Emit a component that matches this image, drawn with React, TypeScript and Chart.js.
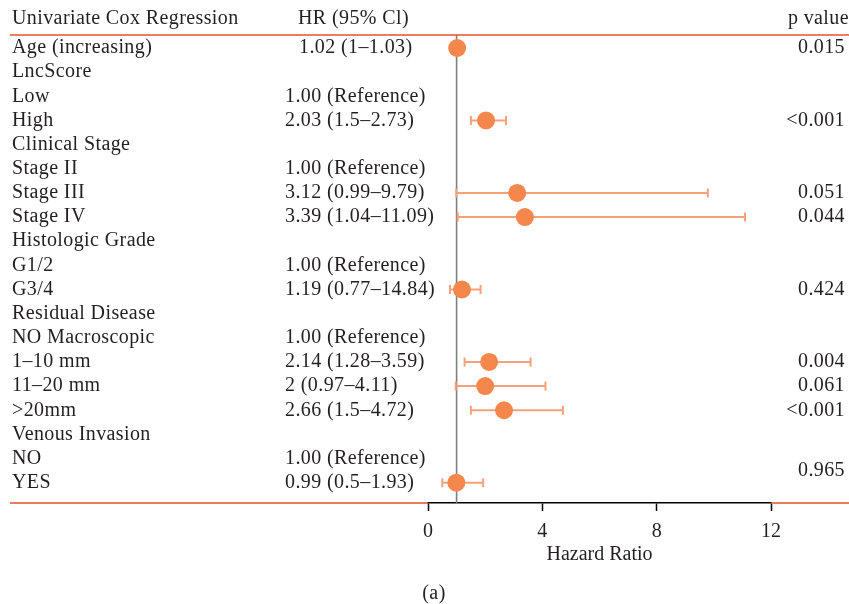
import React, { useEffect, useRef } from "react";
import { Chart, registerables } from "chart.js";

Chart.register(...registerables);

const rowLabels = [
  "Age (increasing)", "LncScore", "Low", "High", "Clinical Stage", "Stage II", "Stage III", "Stage IV",
  "Histologic Grade", "G1/2", "G3/4", "Residual Disease", "NO Macroscopic", "1–10 mm", "11–20 mm",
  ">20mm", "Venous Invasion", "NO", "YES",
];
const hrTexts = [
  "1.02 (1–1.03)", "", "1.00 (Reference)", "2.03 (1.5–2.73)", "", "1.00 (Reference)", "3.12 (0.99–9.79)",
  "3.39 (1.04–11.09)", "", "1.00 (Reference)", "1.19 (0.77–14.84)", "", "1.00 (Reference)",
  "2.14 (1.28–3.59)", "2 (0.97–4.11)", "2.66 (1.5–4.72)", "", "1.00 (Reference)", "0.99 (0.5–1.93)",
];
const hrValues = [1.02, null, null, 2.03, null, null, 3.12, 3.39, null, null, 1.19, null, null, 2.14, 2, 2.66, null, null, 0.99];
const lowerCI = [1, null, null, 1.5, null, null, 0.99, 1.04, null, null, 0.77, null, null, 1.28, 0.97, 1.5, null, null, 0.5];
const upperCI = [1.03, null, null, 2.73, null, null, 9.79, 11.09, null, null, 1.84, null, null, 3.59, 4.11, 4.72, null, null, 1.93];
const pValueRows = [0, 3, 6, 7, 10, 13, 14, 15, 17.5];
const pValueTexts = ["0.015", "<0.001", "0.051", "0.044", "0.424", "0.004", "0.061", "<0.001", "0.965"];
const xTicks = [0, 4, 8, 12];

const W = 849;
const H = 604;
const AREA_LEFT = 428;
const AREA_RIGHT = 771;
const AREA_TOP = 35;
const AREA_BOTTOM = 503;
const ROW0 = 48;
const STEP = 24.15;
const FONT = "'Liberation Serif', 'Times New Roman', serif";
const TEXT = "#231F20";
const RED = "#E5532F";
const DOT = "#F5874C";
const WHISK = "#F5A27A";

export default function App() {
  const ref = useRef<HTMLCanvasElement | null>(null);

  useEffect(() => {
    const canvas = ref.current;
    if (!canvas) return;
    const yMin = (AREA_TOP - ROW0) / STEP;
    const yMax = (AREA_BOTTOM - ROW0) / STEP;

    const points = hrValues
      .map((v, i) => (v == null ? null : { x: v, y: i }))
      .filter((p) => p !== null) as { x: number; y: number }[];

    const forestPlugin = {
      id: "forest",
      beforeDatasetsDraw(chart: any) {
        const { ctx, scales } = chart;
        const xs = scales.x;
        const ys = scales.y;
        ctx.save();
        ctx.strokeStyle = "#7F7F7F";
        ctx.lineWidth = 1.6;
        ctx.beginPath();
        const x1 = xs.getPixelForValue(1);
        ctx.moveTo(x1, AREA_TOP);
        ctx.lineTo(x1, AREA_BOTTOM);
        ctx.stroke();
        ctx.strokeStyle = WHISK;
        ctx.lineWidth = 2;
        hrValues.forEach((v, i) => {
          if (v == null) return;
          const lo = lowerCI[i] as number;
          const hi = upperCI[i] as number;
          const y = ys.getPixelForValue(i);
          const xl = xs.getPixelForValue(lo);
          const xh = xs.getPixelForValue(hi);
          ctx.beginPath();
          ctx.moveTo(xl, y);
          ctx.lineTo(xh, y);
          ctx.moveTo(xl, y - 4.5);
          ctx.lineTo(xl, y + 4.5);
          ctx.moveTo(xh, y - 4.5);
          ctx.lineTo(xh, y + 4.5);
          ctx.stroke();
        });
        ctx.restore();
      },
      afterDraw(chart: any) {
        const { ctx, scales } = chart;
        const ys = scales.y;
        const xs = scales.x;
        ctx.save();
        ctx.strokeStyle = RED;
        ctx.lineWidth = 1.5;
        ctx.beginPath();
        ctx.moveTo(10, AREA_TOP);
        ctx.lineTo(W, AREA_TOP);
        ctx.moveTo(10, AREA_BOTTOM);
        ctx.lineTo(xs.left, AREA_BOTTOM);
        ctx.moveTo(xs.right, AREA_BOTTOM);
        ctx.lineTo(W, AREA_BOTTOM);
        ctx.stroke();

        ctx.fillStyle = TEXT;
        ctx.font = `20px ${FONT}`;
        (ctx as any).letterSpacing = "0.4px";
        ctx.textBaseline = "middle";
        ctx.textAlign = "left";
        ctx.fillText("Univariate Cox Regression", 12, 19);
        ctx.fillText("HR (95% Cl)", 298, 19);
        ctx.textAlign = "right";
        ctx.fillText("p value", 849, 19);

        rowLabels.forEach((lab, i) => {
          const y = ys.getPixelForValue(i);
          ctx.textAlign = "left";
          ctx.fillText(lab, 12, y);
          if (hrTexts[i]) ctx.fillText(hrTexts[i], i === 0 ? 299 : 285, y);
        });
        ctx.textAlign = "right";
        pValueRows.forEach((r, k) => {
          ctx.fillText(pValueTexts[k], 845, ys.getPixelForValue(r));
        });
        ctx.textAlign = "center";
        ctx.fillText("(a)", 434, 594);
        (ctx as any).letterSpacing = "0px";
        ctx.restore();
      },
    };

    const chart = new Chart(canvas, {
      type: "scatter",
      data: {
        datasets: [
          {
            data: points,
            backgroundColor: DOT,
            borderWidth: 0,
            pointRadius: 9,
            pointHoverRadius: 9,
            clip: false as any,
          },
        ],
      },
      options: {
        animation: false,
        responsive: false,
        devicePixelRatio: 1,
        events: [],
        layout: { padding: { left: AREA_LEFT, right: W - AREA_RIGHT, top: AREA_TOP, bottom: 0 } },
        plugins: { legend: { display: false }, tooltip: { enabled: false } },
        scales: {
          x: {
            type: "linear",
            min: 0,
            max: 12,
            afterBuildTicks: (scale: any) => {
              scale.ticks = xTicks.map((v) => ({ value: v }));
            },
            afterFit: (scale: any) => {
              scale.height = H - AREA_BOTTOM;
            },
            ticks: { color: TEXT, font: { family: FONT, size: 20 }, padding: 9 },
            grid: { display: true, drawOnChartArea: false, drawTicks: true, tickLength: 8, color: "#000", tickWidth: 1.5 },
            border: { display: true, color: "#000", width: 1.5 },
            title: { display: true, text: "Hazard Ratio", color: TEXT, font: { family: FONT, size: 20 }, padding: { top: 0, bottom: 37 } },
          },
          y: {
            type: "linear",
            display: false,
            reverse: true,
            min: yMin,
            max: yMax,
          },
        },
      },
      plugins: [forestPlugin],
    });
    return () => chart.destroy();
  }, []);

  return (
    <div style={{ position: "absolute", left: 0, top: 0, width: W, height: H, background: "#fff" }}>
      <canvas ref={ref} width={W} height={H} style={{ width: W, height: H, display: "block" }} />
    </div>
  );
}
